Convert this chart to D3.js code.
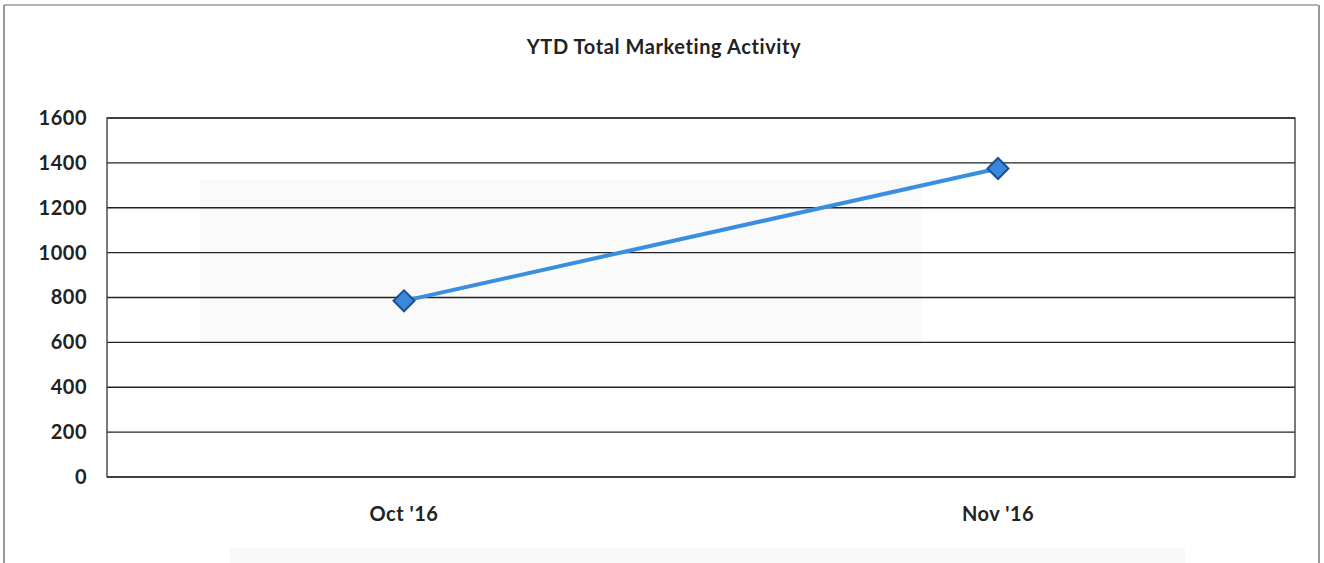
<!DOCTYPE html>
<html>
<head>
<meta charset="utf-8">
<script src="https://cdn.jsdelivr.net/npm/d3@7.9.0/dist/d3.min.js"></script>
<style>
  body { margin: 0; background: #fff; }
  svg { display: block; font-family: Lato, "Open Sans", sans-serif; }
</style>
</head>
<body>
<svg id="chart" width="1324" height="563"></svg>
<script>
// chart data
const months = ["Oct '16", "Nov '16"];
const activity = [785, 1375];
const yTicks = [0, 200, 400, 600, 800, 1000, 1200, 1400, 1600];

const svg = d3.select('#chart');
const margin = { top: 118, right: 29, bottom: 86, left: 107 };
const width = 1324 - margin.left - margin.right;
const height = 563 - margin.top - margin.bottom;

// outer chart frame (page scan)
svg.append('line').attr('x1', 4).attr('x2', 1318).attr('y1', 5).attr('y2', 5)
    .attr('stroke', '#999').attr('stroke-width', 1.5);
svg.append('line').attr('x1', 4).attr('x2', 4).attr('y1', 5).attr('y2', 563)
    .attr('stroke', '#777').attr('stroke-width', 1.5);
svg.append('line').attr('x1', 1319).attr('x2', 1319).attr('y1', 5).attr('y2', 563)
    .attr('stroke', '#777').attr('stroke-width', 1.5);

// faint scan shading
svg.append('rect').attr('x', 200).attr('y', 180).attr('width', 722).attr('height', 165)
    .attr('fill', '#fafafa');
svg.append('rect').attr('x', 230).attr('y', 548).attr('width', 955).attr('height', 15)
    .attr('fill', '#f8f8f8');

svg.append('text')
    .attr('x', 664).attr('y', 54)
    .attr('text-anchor', 'middle')
    .attr('font-size', 20).attr('font-weight', 'bold')
    .attr('letter-spacing', 0.6)
    .attr('fill', '#222')
    .text('YTD Total Marketing Activity');

const g = svg.append('g').attr('transform', `translate(${margin.left},${margin.top})`);

const x = d3.scaleBand().domain(months).range([0, width]);
const y = d3.scaleLinear().domain([0, 1600]).range([height, 0]);

// gridlines
g.selectAll('.grid').data(yTicks).enter().append('line')
    .attr('x1', 0).attr('x2', width)
    .attr('y1', d => y(d)).attr('y2', d => y(d))
    .attr('stroke', '#222').attr('stroke-width', 1.3);

// plot border
g.append('rect').attr('width', width).attr('height', height)
    .attr('fill', 'none').attr('stroke', '#333').attr('stroke-width', 1.3);

// y axis
const yAxis = g.append('g')
    .call(d3.axisLeft(y).tickValues(yTicks).tickFormat(d3.format('d')).tickSize(0).tickPadding(20));
yAxis.select('.domain').remove();
yAxis.selectAll('text').attr('font-size', 20).attr('font-weight', 'bold').attr('fill', '#222')
    .attr('letter-spacing', 0.5)
    .attr('font-family', 'Lato, "Open Sans", sans-serif');

// x axis
const xAxis = g.append('g').attr('transform', `translate(0,${height})`)
    .call(d3.axisBottom(x).tickSize(0).tickPadding(30));
xAxis.select('.domain').remove();
xAxis.selectAll('text').attr('font-size', 20).attr('font-weight', 'bold').attr('fill', '#222')
    .attr('letter-spacing', 0.5)
    .attr('font-family', 'Lato, "Open Sans", sans-serif');

const cx = d => x(d) + x.bandwidth() / 2;

const line = d3.line().x((d, i) => cx(months[i])).y(d => y(d));
g.append('path').datum(activity)
    .attr('d', line)
    .attr('fill', 'none')
    .attr('stroke', '#3a8ee0')
    .attr('stroke-width', 4);

g.selectAll('.pt').data(activity).enter().append('path')
    .attr('d', d3.symbol().type(d3.symbolSquare).size(220))
    .attr('transform', (d, i) => `translate(${cx(months[i])},${y(d)}) rotate(45)`)
    .attr('fill', '#3a88dc')
    .attr('stroke', '#1d4f92')
    .attr('stroke-width', 2);
</script>
</body>
</html>
